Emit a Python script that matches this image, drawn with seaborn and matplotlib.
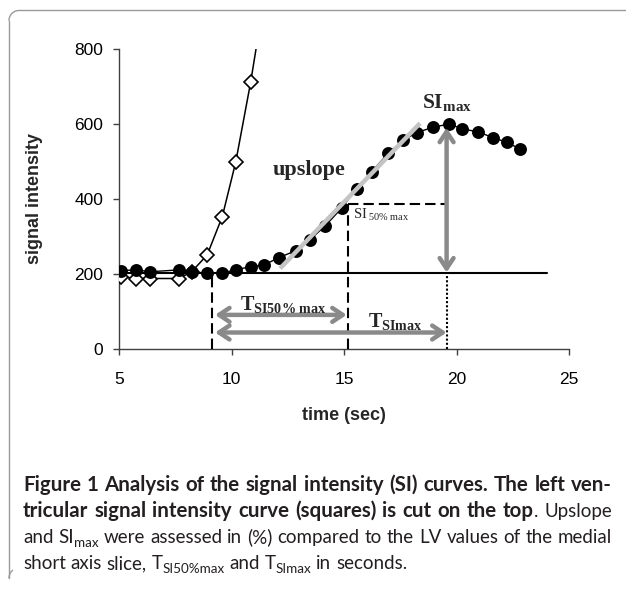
import numpy as np
import pandas as pd
import matplotlib
matplotlib.use("Agg")
import matplotlib.pyplot as plt
import seaborn as sns
from matplotlib.lines import Line2D

# ---------------- data ----------------
time_s = [5.09, 5.76, 6.38, 7.67, 8.23, 8.92, 9.59, 10.19, 10.85, 11.44,
          12.12, 12.85, 13.47, 14.16, 14.90, 15.56, 16.23, 16.97, 17.64,
          18.23, 18.94, 19.67, 20.26, 20.97, 21.64, 22.26, 22.82]
myo_si = [209, 211, 206, 211, 206, 202, 202, 212, 219, 224,
          244, 262, 291, 328, 376, 428, 473, 522, 557,
          577, 591, 600, 587, 579, 563, 551, 533]
lv_time = [5.09, 5.76, 6.38, 7.67, 8.23, 8.92, 9.59, 10.19, 10.85, 11.44]
lv_si = [193, 188, 188, 188, 206, 251, 353, 499, 711, 930]

baseline_si = 204
baseline_end = 24.0
t_onset = 9.12
t_si50 = 15.19
si50_value = 387
t_simax = 19.56
si_max_value = 590
upslope_x = [12.16, 18.38]
upslope_y = [215, 602]
arrow_t50_y = 91
arrow_tmax_y = 44
arrow_left = 9.27

x_ticks = [5, 10, 15, 20, 25]
y_ticks = [0, 200, 400, 600, 800]

# ---------------- style ----------------
sns.set_style("ticks")
plt.rcParams["font.family"] = ["Liberation Sans", "DejaVu Sans"]
plt.rcParams["mathtext.fontset"] = "custom"
plt.rcParams["mathtext.rm"] = "Liberation Serif"
plt.rcParams["mathtext.bf"] = "Liberation Serif:bold"
plt.rcParams["mathtext.it"] = "Liberation Serif:italic"

W, H = 626, 595
fig = plt.figure(figsize=(W / 100, H / 100), dpi=100)
fig.patch.set_facecolor("white")

def fx(x):
    return x / W

def fy(y):
    return 1 - y / H

ax = fig.add_axes([fx(119), fy(349), 450 / W, 300 / H])
ax.set_facecolor("white")

# LV curve (diamonds)
sns.lineplot(x=lv_time, y=lv_si, ax=ax, color="black", lw=1.1, sort=False,
             marker="D", markersize=7, markerfacecolor="white",
             markeredgecolor="black", markeredgewidth=1.2, zorder=3)
# baseline
ax.plot([5, baseline_end], [baseline_si, baseline_si], color="black", lw=1.5, zorder=2)
# myocardial curve (circles)
sns.lineplot(x=time_s, y=myo_si, ax=ax, color="black", lw=1.0, sort=False,
             marker="o", markersize=9.3, markerfacecolor="black",
             markeredgecolor="black", markeredgewidth=0, zorder=4)
# upslope line
ax.plot(upslope_x, upslope_y, color="#c4c4c4", lw=3.2, solid_capstyle="butt", zorder=5)

# dashed / dotted guides
dash = (0, (5, 2.4))
ax.plot([t_onset, t_onset], [0, baseline_si], color="black", lw=1.5, ls=dash, zorder=3)
ax.plot([t_si50, t_si50], [0, si50_value], color="black", lw=1.5, ls=dash, zorder=3)
ax.plot([t_si50, t_simax], [si50_value, si50_value], color="black", lw=1.5, ls=dash, zorder=3)
ax.plot([t_simax, t_simax], [0, baseline_si], color="black", lw=1.5, ls=(0, (1, 1)), zorder=3)

# gray arrows
arrow_kw = dict(arrowstyle="<->,head_length=0.75,head_width=0.5", color="#8a8a8a",
                lw=3.2, shrinkA=0, shrinkB=0)
ax.annotate("", xy=(t_simax, si_max_value), xytext=(t_simax, baseline_si),
            arrowprops=arrow_kw, zorder=6)
ax.annotate("", xy=(t_si50 - 0.07, arrow_t50_y), xytext=(arrow_left, arrow_t50_y),
            arrowprops=arrow_kw, zorder=6)
ax.annotate("", xy=(t_simax, arrow_tmax_y), xytext=(arrow_left, arrow_tmax_y),
            arrowprops=arrow_kw, zorder=6)

# annotations
ax.text(11.84, 477, "upslope", fontfamily="Liberation Serif", fontweight="bold",
        fontsize=16, ha="left", va="center", zorder=7)
ax.text(18.45, 643, r"$\mathbf{SI}_{\mathbf{max}}$", fontsize=15.5, ha="left",
        va="baseline", zorder=7)
ax.text(10.38, 104, r"$\mathbf{T}_{\mathbf{SI50\%\ max}}$", fontsize=14.5, ha="left",
        va="baseline", zorder=7)
ax.text(16.07, 58, r"$\mathbf{T}_{\mathbf{SImax}}$", fontsize=14.5, ha="left",
        va="baseline", zorder=7)
ax.text(15.42, 347, r"$\mathrm{SI}_{\ \mathrm{50\%\ max}}$", fontsize=10.5, ha="left",
        va="baseline", zorder=7)

# axes
ax.set_xlim(5, 25)
ax.set_ylim(0, 800)
ax.set_xticks(x_ticks)
ax.set_yticks(y_ticks)
ax.set_xticklabels([str(v) for v in x_ticks])
ax.set_yticklabels([str(v) for v in y_ticks])
for s in ["top", "right"]:
    ax.spines[s].set_visible(False)
for s in ["left", "bottom"]:
    ax.spines[s].set_color("#404040")
    ax.spines[s].set_linewidth(1.0)
ax.tick_params(axis="both", direction="out", length=4.5, width=1.0, color="#404040",
               labelsize=12.5, labelcolor="black")
ax.tick_params(axis="x", pad=12)
ax.tick_params(axis="y", pad=7)
ax.set_xlabel("time (sec)", fontsize=13, fontweight="bold")
ax.set_ylabel("signal intensity", fontsize=13, fontweight="bold")
ax.xaxis.set_label_coords(0.5, (349 - 407) / 300)
ax.yaxis.set_label_coords((43 - 119) / 450, 0.5)

# ---------------- frame ----------------
frame_col = "#9a9a9a"
r = 10
xl, yt, yb = 9, 10.5, 588
ang = np.linspace(np.pi, 1.5 * np.pi, 20)
cx, cy = xl + r, yt + r
top_x = list(cx + r * np.cos(ang)) + [W + 5]
top_y = list(cy + r * np.sin(ang)) + [yt]
fig.add_artist(Line2D([fx(v) for v in [xl, xl]], [fy(v) for v in [cy, yb - r]],
                      color=frame_col, lw=1.0))
fig.add_artist(Line2D([fx(v) for v in top_x], [fy(v) for v in top_y],
                      color=frame_col, lw=1.0))
ang2 = np.linspace(np.pi, 0.72 * np.pi, 10)
bx = xl + r + r * np.cos(ang2)
by = yb - r - r * np.sin(ang2)
fig.add_artist(Line2D([fx(v) for v in bx], [fy(v) for v in by], color=frame_col, lw=1.0))

# ---------------- caption ----------------
cap_font = ["Lato", "DejaVu Sans"]
cap_col = "#231f20"
sub_scale = 0.72
sub_drop = 4.0
left_x, right_x = 23, 612

caption_lines = [
    (491, True, [("Figure 1 Analysis of the signal intensity (SI) curves. The left ven-", "b")]),
    (517, True, [("tricular signal intensity curve (squares) is cut on the top", "b"),
                 (". Upslope", "r")]),
    (543, True, [("and SI", "r"), ("max", "s"),
                 (" were assessed in (%) compared to the LV values of the medial", "r")]),
    (569, False, [("short axis slice, T", "r"), ("SI50%max", "s"), (" and T", "r"),
                  ("SImax", "s"), (" in seconds.", "r")]),
]

def to_words(runs):
    words = [[]]
    for txt, st in runs:
        parts = txt.split(" ")
        for i, p in enumerate(parts):
            if i > 0:
                words.append([])
            if p:
                words[-1].append((p, st))
    return [w for w in words if w]

renderer = fig.canvas.get_renderer()
sizes = {"r": 12.0, "b": 12.0}

def make_text(s, st):
    kw = dict(fontfamily=cap_font, color=cap_col, ha="left", va="baseline")
    if st == "b":
        kw.update(fontweight="bold", fontsize=sizes["b"])
    elif st == "s":
        kw.update(fontweight="normal", fontsize=sizes["r"] * sub_scale)
    else:
        kw.update(fontweight="normal", fontsize=sizes["r"])
    return fig.text(0, 0, s, **kw)

def width_of(t):
    return t.get_window_extent(renderer).width

def space_width():
    a = make_text("n n", "r")
    b = make_text("nn", "r")
    w = width_of(a) - width_of(b)
    a.remove()
    b.remove()
    return w

def natural_width(runs):
    total = 0
    words = to_words(runs)
    for w in words:
        for s, st in w:
            t = make_text(s, st)
            total += width_of(t)
            t.remove()
    return total + space_width() * (len(words) - 1)

# regular size fitted on line 3, bold size fitted on line 1
sizes["r"] = 12.0 * 584.0 / natural_width(caption_lines[2][2])
sizes["b"] = sizes["r"]
sizes["b"] = sizes["b"] * 584.0 / natural_width(caption_lines[0][2])
space_w = space_width()

for base_y, justify, runs in caption_lines:
    words = to_words(runs)
    items = []
    total = 0
    for w in words:
        segs = []
        ww = 0
        for s, st in w:
            t = make_text(s, st)
            wd = width_of(t)
            segs.append((t, st, wd))
            ww += wd
        items.append((segs, ww))
        total += ww
    if justify and len(items) > 1:
        gap = (right_x - left_x - total) / (len(items) - 1)
    else:
        gap = space_w
    x = left_x
    for segs, ww in items:
        for t, st, wd in segs:
            yy = base_y + (sub_drop if st == "s" else 0)
            t.set_position((fx(x), fy(yy)))
            x += wd
        x += gap

fig.savefig("out.png", dpi=100, facecolor="white")
